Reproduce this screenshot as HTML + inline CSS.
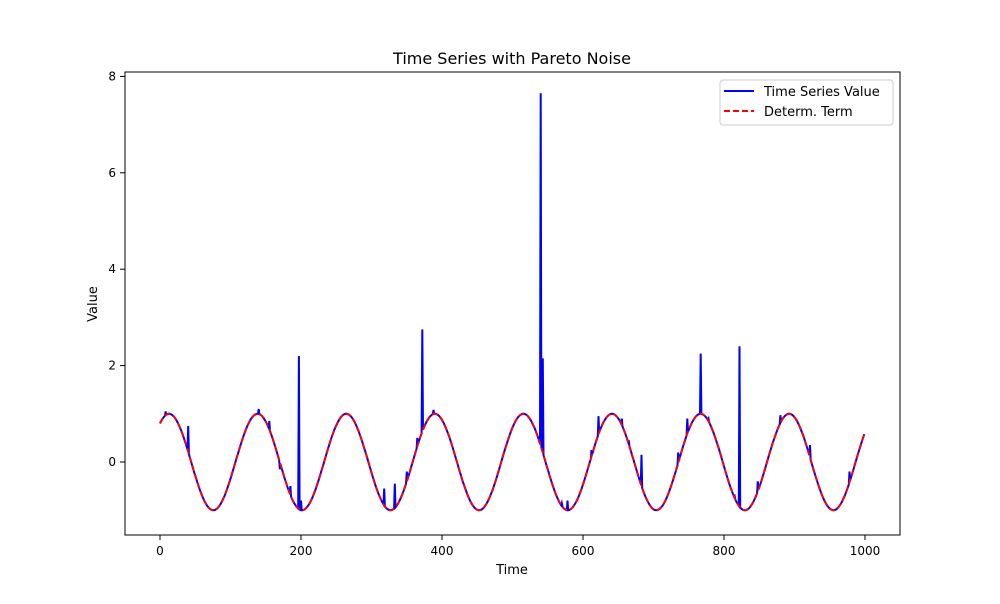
<!DOCTYPE html>
<html><head><meta charset="utf-8"><style>
body{margin:0;background:#fff;font-family:"DejaVu Sans","Liberation Sans",sans-serif}
svg text{font-family:"DejaVu Sans","Liberation Sans",sans-serif;fill:#000}
</style></head><body>
<svg id="c" width="1000" height="600">
<rect x="0" y="0" width="1000" height="600" fill="#fff"/>
<text x="512" y="64" font-size="16" text-anchor="middle">Time Series with Pareto Noise</text>
<g id="xt"></g><g id="yt"></g>
<g id="plot"></g>
<rect x="125" y="72" width="775" height="463" fill="none" stroke="#000" stroke-width="1"/>
<text x="512" y="574" font-size="13" text-anchor="middle">Time</text>
<text x="97" y="304" font-size="13" text-anchor="middle" transform="rotate(-90 97 304)">Value</text>
<g>
<rect x="720" y="80" width="173" height="45" rx="3" fill="#fff" stroke="#ccc"/>
<line x1="724" y1="91" x2="754" y2="91" stroke="#00f" stroke-width="2"/>
<text x="764" y="96" font-size="13">Time Series Value</text>
<line x1="724" y1="111" x2="754" y2="111" stroke="#f00" stroke-width="2" stroke-dasharray="6,3"/>
<text x="764" y="116" font-size="13">Determ. Term</text>
</g>
</svg>
<script>
const xTicks=[0,200,400,600,800,1000];
const yTicks=[0,2,4,6,8];
const spikeTimes=[8,40,140,155,170,185,197,200,318,333,350,365,372,388,540,543,570,578,612,622,655,665,683,735,748,767,778,815,822,848,880,922,978];
const spikeValues=[1.05,0.75,1.1,0.85,-0.15,-0.5,2.2,-0.8,-0.55,-0.45,-0.2,0.5,2.75,1.08,7.65,2.15,-0.85,-0.8,0.25,0.95,0.9,0.45,0.15,0.2,0.9,2.25,0.9,-0.7,2.4,-0.4,0.97,0.35,-0.2];
const freq=0.05, phase=0.93, nPoints=1000;
const X=t=>160+t*0.705, Y=v=>462-v*48.2;
const ns="http://www.w3.org/2000/svg";
function mk(tag,attrs,parent){const e=document.createElementNS(ns,tag);for(const k in attrs)e.setAttribute(k,attrs[k]);parent.appendChild(e);return e;}
const xt=document.getElementById('xt'),yt=document.getElementById('yt'),plot=document.getElementById('plot');
xTicks.forEach(t=>{
 const l=mk('line',{x1:X(t),x2:X(t),y1:535,y2:540,stroke:'#000'},xt);
 
 
 const tx=mk('text',{x:X(t),y:555,'font-size':12,'text-anchor':'middle'},xt);tx.textContent=t;
 
 
});
yTicks.forEach(v=>{
 const l=mk('line',{x1:120,x2:125,y1:Y(v),y2:Y(v),stroke:'#000'},yt);
 
 
 const tx=mk('text',{x:116,y:Y(v)+4,'font-size':12,'text-anchor':'end'},yt);tx.textContent=v;
 
 
});
const det=[],ser=[];
for(let t=0;t<nPoints;t++){det.push(Math.sin(freq*t+phase));}
for(let t=0;t<nPoints;t++){const i=spikeTimes.indexOf(t);ser.push(i>=0?spikeValues[i]:det[t]);}
const p1=mk('path',{d:'M'+ser.map((v,t)=>X(t).toFixed(1)+','+Y(v).toFixed(1)).join('L'),fill:'none',stroke:'#00f','stroke-width':2},plot);


const p2=mk('path',{d:'M'+det.map((v,t)=>X(t).toFixed(1)+','+Y(v).toFixed(1)).join('L'),fill:'none',stroke:'#f00','stroke-width':2,'stroke-dasharray':'6,3'},plot);


</script>
</body></html>
